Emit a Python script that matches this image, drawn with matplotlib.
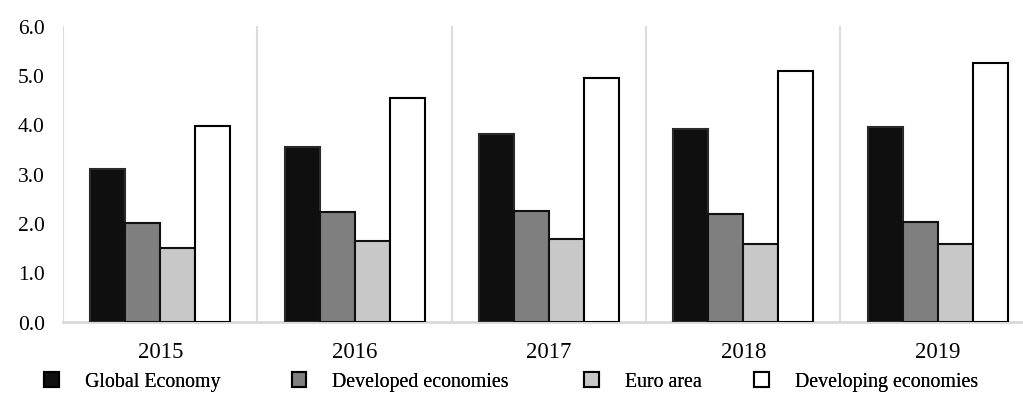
import matplotlib
matplotlib.use("Agg")
import matplotlib.pyplot as plt
from matplotlib.patches import Patch
import numpy as np

# growth figures by year
years = ["2015", "2016", "2017", "2018", "2019"]
global_economy = [3.1, 3.55, 3.8, 3.9, 3.95]
developed = [2.0, 2.22, 2.24, 2.18, 2.03]
euro_area = [1.5, 1.64, 1.68, 1.58, 1.58]
developing = [3.97, 4.54, 4.93, 5.08, 5.24]

names = ["Global Economy", "Developed economies", "Euro area", "Developing economies"]
series = [global_economy, developed, euro_area, developing]
fills = ["#0f0f0f", "#7f7f7f", "#c8c8c8", "#ffffff"]
edges = ["#2a2a2a", "#111111", "#111111", "#000000"]

plt.rcParams["font.family"] = ["Liberation Serif", "DejaVu Serif"]

fig = plt.figure(figsize=(10.23, 4.02), dpi=100)
ax = fig.add_axes([0.0616, 0.1975, 0.950, 0.736])

x = np.arange(len(years))
w = 0.18
for i, (vals, fc, ec) in enumerate(zip(series, fills, edges)):
    ax.bar(x + 0.5 + (i - 1.5) * w, vals, width=w, color=fc, edgecolor=ec,
           linewidth=1.5, zorder=3)

# light separators between year groups
for b in range(len(years) + 1):
    ax.axvline(b, color="#dcdcdc", linewidth=1.5, zorder=1)

ax.set_xlim(0, len(years))
ax.set_ylim(0, 6)
ax.set_yticks(np.arange(0, 7, 1))
ax.set_yticklabels([f"{v:.1f}" for v in range(7)], fontsize=15.5)
ax.set_xticks(x + 0.5)
ax.set_xticklabels(years, fontsize=16.5)
ax.tick_params(axis="y", length=0, pad=13)
ax.tick_params(axis="x", length=0, pad=14)

for s in ["top", "right", "left"]:
    ax.spines[s].set_visible(False)
ax.spines["bottom"].set_color("#d9d9d9")
ax.spines["bottom"].set_linewidth(2)

# legend entries, laid out one by one along the bottom
leg_x = [0.043, 0.285, 0.571, 0.737]
for name, fc, ec, lx in zip(names, fills, edges, leg_x):
    h = Patch(facecolor=fc, edgecolor="#000000", linewidth=1.5)
    lg = fig.legend(handles=[h], labels=[name], loc="center left",
                    bbox_to_anchor=(lx, 0.048), frameon=False, fontsize=14.3,
                    handlelength=0.75, handleheight=0.75, handletextpad=1.3,
                    borderpad=0, borderaxespad=0)
    fig.add_artist(lg)

fig.savefig("out.png", dpi=100)
